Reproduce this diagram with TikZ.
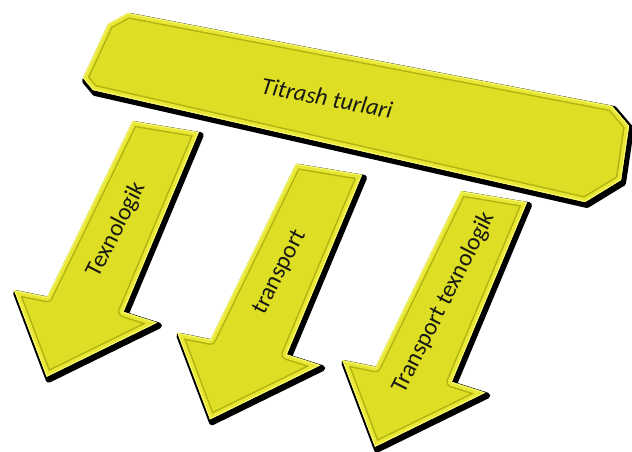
\documentclass[tikz,border=0pt]{standalone}
\usepackage{fontspec}
\setmainfont{Carlito}
\definecolor{face}{RGB}{222,222,36}
\definecolor{bevdark}{RGB}{178,178,18}
\definecolor{bevlight}{RGB}{232,232,52}
\definecolor{rimlight}{RGB}{246,246,120}
\definecolor{ink}{RGB}{25,25,20}
\newcommand\bevelshape[1]{%
  \fill[black, draw=black, line width=6pt, line join=round, shift={(2,3)}] #1;
  \fill[face] #1;
  \begin{scope}
    \clip #1;
    \draw[bevdark, line width=11pt, line join=round] #1;
    \draw[bevlight, line width=8pt, line join=round] #1;
    \draw[rimlight, line width=2pt, line join=round] #1;
  \end{scope}}
\newcommand\arrowpoly{(86,-255.5) -- (152,-244.5) -- (76.7,-64.8) -- (110.3,-54.1) -- (0,0) -- (-32.6,-86.5) -- (0.6,-79.8) -- cycle}
\tikzset{
  arrowtext/.style={font=\fontsize{24}{28}\selectfont, text=ink, rotate=63, inner sep=0pt},
  bartext/.style={font=\fontsize{24}{28}\selectfont\itshape, text=ink, rotate=-11, inner sep=0pt}
}
\begin{document}
\begin{tikzpicture}[x=1pt, y=-1pt]
\useasboundingbox (0,0) rectangle (632,452);
% arrows
\begin{scope}[shift={(46.7,376.7)}]
  \bevelshape{\arrowpoly}
  \node[arrowtext] (t1) at (70,-147) {Texnologik};
\end{scope}
\begin{scope}[shift={(210,419.3)}]
  \bevelshape{\arrowpoly}
  \node[arrowtext] (t2) at (70,-147) {transport};
\end{scope}
\begin{scope}[shift={(375,446.7)}]
  \bevelshape{\arrowpoly}
  \node[arrowtext] (t3) at (69,-144) {Transport texnologik};
\end{scope}
% bar
\bevelshape{(108,24) -- (128,13) -- (612,106) -- (629,126) -- (621,180) -- (585,202) -- (93,90) -- (83,78) -- cycle}
\node[bartext] (title) at (327,98) {Titrash turlari};
\end{tikzpicture}
\end{document}
